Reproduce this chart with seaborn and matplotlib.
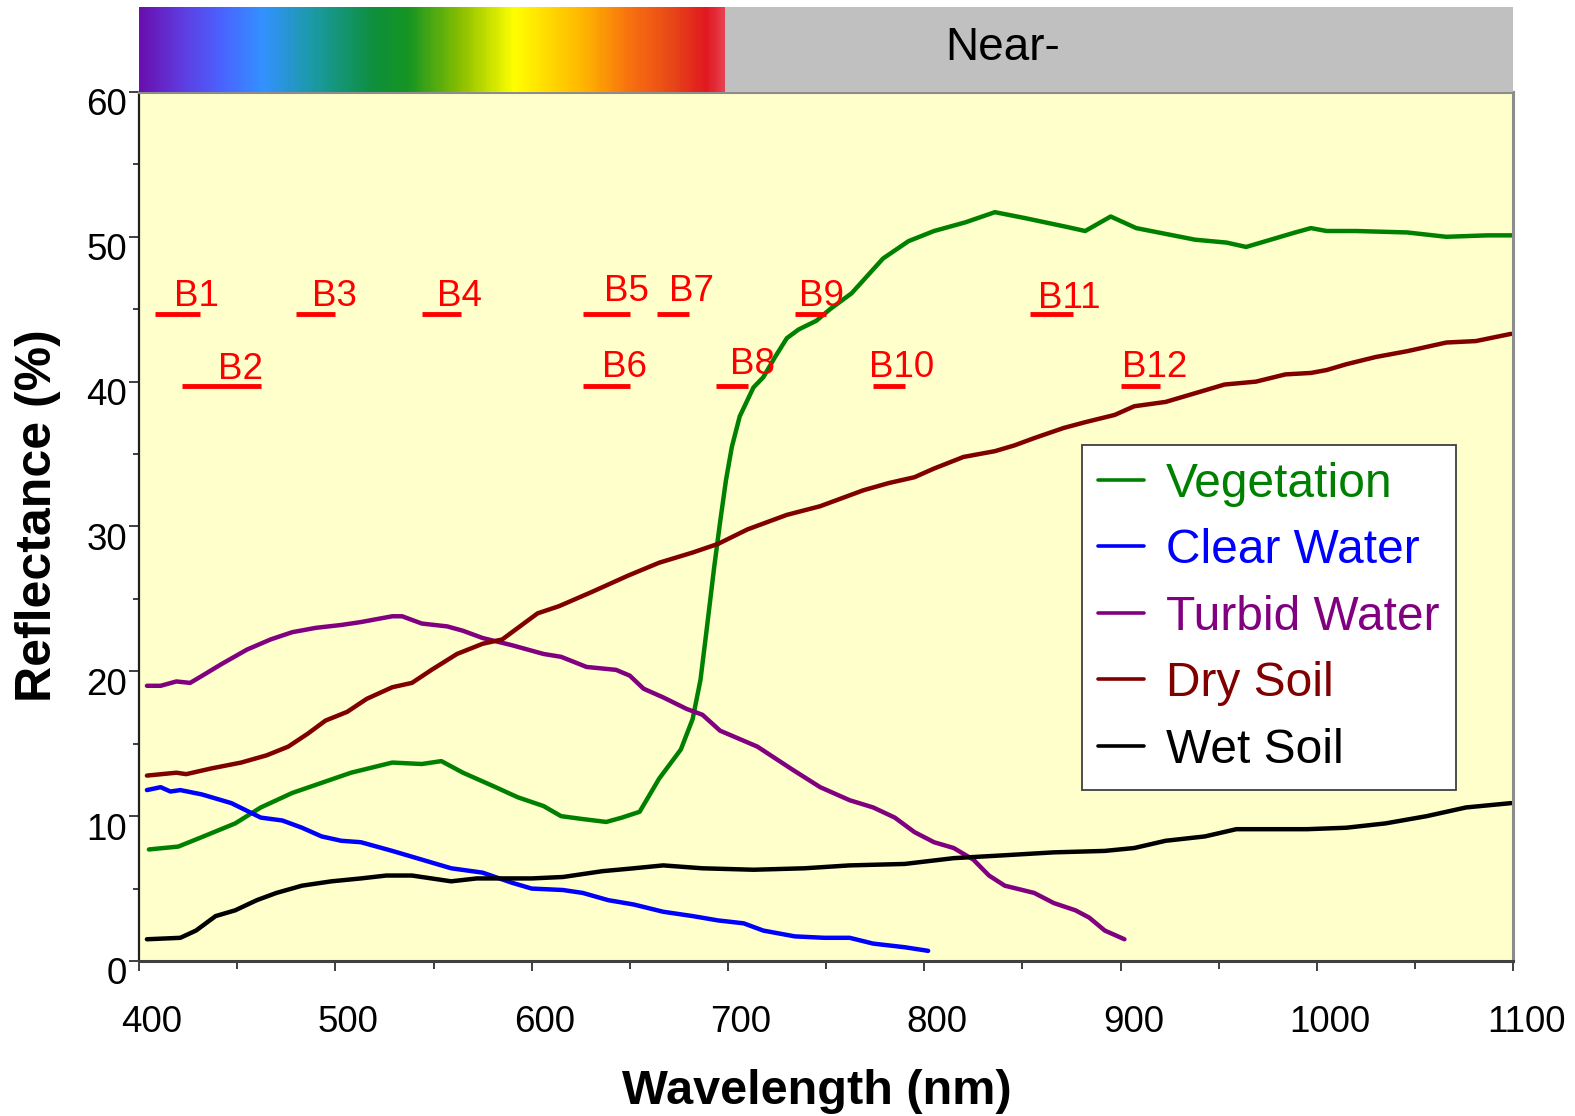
import numpy as np
import pandas as pd
import seaborn as sns
import matplotlib.pyplot as plt
from matplotlib.colors import LinearSegmentedColormap
from matplotlib.transforms import ScaledTranslation

# curves (wavelength nm, reflectance %)
veg_nm = [405, 420, 431, 449, 462, 478, 493, 508, 529, 544, 554, 565, 580, 593,
          606, 615, 626, 638, 646, 655, 665, 676, 682, 686, 689, 693, 696, 699,
          702, 706, 713, 718, 724, 730, 736, 745, 752, 763, 779, 792, 805, 821,
          836, 851, 872, 882, 895, 908, 923, 938, 954, 964, 974, 989, 997, 1005,
          1020, 1046, 1066, 1087, 1100]
veg_val = [7.7, 7.9, 8.5, 9.5, 10.6, 11.6, 12.3, 13.0, 13.7, 13.6, 13.8, 13.0, 12.1, 11.3,
           10.7, 10.0, 9.8, 9.6, 9.9, 10.3, 12.6, 14.6, 16.7, 19.4, 22.7, 27.2, 30.3, 33.2,
           35.5, 37.6, 39.6, 40.3, 41.7, 43.0, 43.6, 44.2, 45.0, 46.1, 48.5, 49.7, 50.4, 51.0,
           51.7, 51.3, 50.7, 50.4, 51.4, 50.6, 50.2, 49.8, 49.6, 49.3, 49.7, 50.3, 50.6, 50.4,
           50.4, 50.3, 50.0, 50.1, 50.1]

clear_nm = [404, 411, 416, 421, 432, 447, 462, 473, 483, 493, 503, 513, 529, 544,
            559, 575, 590, 600, 616, 626, 639, 652, 667, 682, 695, 708, 718, 734,
            749, 762, 774, 790, 802]
clear_val = [11.8, 12.0, 11.7, 11.8, 11.5, 10.9, 9.9, 9.7, 9.2, 8.6, 8.3, 8.2, 7.6, 7.0,
             6.4, 6.1, 5.4, 5.0, 4.9, 4.7, 4.2, 3.9, 3.4, 3.1, 2.8, 2.6, 2.1, 1.7,
             1.6, 1.6, 1.2, 0.95, 0.7]

turbid_nm = [404, 411, 419, 426, 431, 442, 455, 467, 478, 490, 503, 513, 529, 534,
             544, 557, 565, 575, 590, 606, 615, 628, 643, 650, 657, 667, 679, 687,
             696, 715, 733, 747, 762, 774, 785, 795, 805, 815, 825, 833, 841, 856,
             866, 877, 884, 892, 902]
turbid_val = [19.0, 19.0, 19.3, 19.2, 19.6, 20.5, 21.5, 22.2, 22.7, 23.0, 23.2, 23.4, 23.8, 23.8,
              23.3, 23.1, 22.8, 22.3, 21.8, 21.2, 21.0, 20.3, 20.1, 19.7, 18.8, 18.2, 17.4, 17.0,
              15.9, 14.8, 13.2, 12.0, 11.1, 10.6, 9.9, 8.9, 8.2, 7.8, 7.0, 5.9, 5.2, 4.7,
              4.0, 3.5, 3.0, 2.1, 1.5]

dry_nm = [404, 419, 424, 437, 452, 465, 476, 486, 495, 506, 516, 529, 539, 549,
          562, 575, 585, 593, 603, 614, 631, 649, 665, 682, 695, 710, 730, 747,
          757, 769, 782, 795, 805, 820, 836, 846, 856, 871, 882, 897, 907, 923,
          938, 953, 969, 984, 997, 1005, 1015, 1030, 1046, 1056, 1066, 1081, 1099]
dry_val = [12.8, 13.0, 12.9, 13.3, 13.7, 14.2, 14.8, 15.7, 16.6, 17.2, 18.1, 18.9, 19.2, 20.1,
           21.2, 21.9, 22.2, 23.0, 24.0, 24.5, 25.5, 26.6, 27.5, 28.2, 28.8, 29.8, 30.8, 31.4,
           31.9, 32.5, 33.0, 33.4, 34.0, 34.8, 35.2, 35.6, 36.1, 36.8, 37.2, 37.7, 38.3, 38.6,
           39.2, 39.8, 40.0, 40.5, 40.6, 40.8, 41.2, 41.7, 42.1, 42.4, 42.7, 42.8, 43.3]

wet_nm = [404, 421, 429, 439, 449, 460, 470, 483, 498, 513, 526, 539, 549, 559,
          572, 585, 600, 616, 636, 652, 667, 687, 713, 739, 762, 790, 815, 841,
          866, 892, 907, 923, 943, 959, 974, 995, 1015, 1035, 1056, 1076, 1099]
wet_val = [1.5, 1.6, 2.1, 3.1, 3.5, 4.2, 4.7, 5.2, 5.5, 5.7, 5.9, 5.9, 5.7, 5.5,
           5.7, 5.7, 5.7, 5.8, 6.2, 6.4, 6.6, 6.4, 6.3, 6.4, 6.6, 6.7, 7.1, 7.3,
           7.5, 7.6, 7.8, 8.3, 8.6, 9.1, 9.1, 9.1, 9.2, 9.5, 10.0, 10.6, 10.9]

series_names = ['Vegetation', 'Clear Water', 'Turbid Water', 'Dry Soil', 'Wet Soil']
series_colors = ['#008000', '#0000FF', '#800080', '#800000', '#000000']

# sensor bands
band_names = ['B1', 'B2', 'B3', 'B4', 'B5', 'B6', 'B7', 'B8', 'B9', 'B10', 'B11', 'B12']
band_lo = [408, 422, 480, 544, 626, 626, 664, 694, 734, 774, 854, 900]
band_hi = [431, 462, 500, 564, 650, 650, 680, 710, 750, 790, 876, 920]
band_level = [44.7, 39.7, 44.7, 44.7, 44.7, 39.7, 44.7, 39.7, 44.7, 39.7, 44.7, 39.7]
label_x = [418, 440, 488, 552, 637, 636, 670, 701, 736, 772, 858, 901]
label_y = [45.2, 40.2, 45.2, 45.2, 45.6, 40.3, 45.6, 40.5, 45.2, 40.3, 45.1, 40.3]

x_ticks = [400, 500, 600, 700, 800, 900, 1000, 1100]
y_ticks = [0, 10, 20, 30, 40, 50, 60]

frames = []
for name, xs, ys in zip(series_names,
                        [veg_nm, clear_nm, turbid_nm, dry_nm, wet_nm],
                        [veg_val, clear_val, turbid_val, dry_val, wet_val]):
    frames.append(pd.DataFrame({'nm': xs, 'refl': ys, 'cover': name}))
df = pd.concat(frames, ignore_index=True)

sns.set_style('ticks')
plt.rcParams['font.family'] = ['Liberation Sans', 'DejaVu Sans']
plt.rcParams['text.color'] = 'black'
plt.rcParams['axes.labelcolor'] = 'black'
plt.rcParams['xtick.labelcolor'] = 'black'
plt.rcParams['ytick.labelcolor'] = 'black'

fig = plt.figure(figsize=(15.75, 11.16), dpi=100)
ax = fig.add_axes([0.0883, 0.1389, 0.8724, 0.7787])
ax.set_facecolor('#FFFFCC')

sns.lineplot(data=df, x='nm', y='refl', hue='cover', hue_order=series_names,
             palette=dict(zip(series_names, series_colors)), estimator=None,
             sort=False, linewidth=3.2, ax=ax)

ax.hlines(band_level, band_lo, band_hi, colors='#FF0000', linewidth=3.5)
for name, bx, by in zip(band_names, label_x, label_y):
    ax.text(bx, by, name, color='#FF0000', fontsize=26.5, ha='left', va='baseline')

ax.set_xlim(400, 1100)
ax.set_ylim(0, 60)
ax.set_xticks(x_ticks)
ax.set_yticks(y_ticks)
ax.set_xticks(np.arange(450, 1100, 100), minor=True)
ax.set_yticks(np.arange(5, 60, 10), minor=True)
ax.tick_params(axis='both', which='major', labelsize=26.5, length=7, width=1.3,
               color='#303030', labelcolor='black', direction='out')
ax.tick_params(axis='x', which='major', pad=25)
ax.tick_params(axis='y', which='major', pad=1.5)
ax.tick_params(axis='x', which='minor', length=5.5, width=1.3, color='#303030')
ax.tick_params(axis='y', which='minor', length=4.5, width=1.3, color='#303030')

dx = ScaledTranslation(0.13, 0, fig.dpi_scale_trans)
dy = ScaledTranslation(0, -0.10, fig.dpi_scale_trans)
for t in ax.xaxis.get_major_ticks():
    t.label1.set_transform(t.label1.get_transform() + dx)
for t in ax.yaxis.get_major_ticks():
    t.label1.set_transform(t.label1.get_transform() + dy)

ax.set_xlabel('Wavelength (nm)', fontsize=35, fontweight='bold', color='black')
ax.set_ylabel('Reflectance (%)', fontsize=36, fontweight='bold', color='black')
ax.xaxis.set_label_coords(0.4935, -0.124)
ax.yaxis.set_label_coords(-0.057, 0.513)

for side in ['top', 'right']:
    ax.spines[side].set_color('#8C8C8C')
    ax.spines[side].set_linewidth(2.2)
ax.spines['left'].set_color('#202020')
ax.spines['left'].set_linewidth(1.6)
ax.spines['bottom'].set_color('#404040')
ax.spines['bottom'].set_linewidth(2.2)

leg = ax.legend(loc='upper left', bbox_to_anchor=(0.686, 0.594), borderaxespad=0,
                fontsize=34.5, frameon=True, fancybox=False, framealpha=1,
                facecolor='white', edgecolor='#404040', labelcolor='linecolor',
                handlelength=0.95, handletextpad=0.45, labelspacing=0.45,
                borderpad=0.35)
leg.get_frame().set_linewidth(1.3)
for h in leg.get_lines():
    h.set_linewidth(2.6)

# colour spectrum strip and near-infrared strip above the plot
spec = LinearSegmentedColormap.from_list('spec', [
    (0.00, '#6A10B0'), (0.07, '#5F3CE0'), (0.14, '#4A64FF'), (0.21, '#3392FF'),
    (0.30, '#1A9AA0'), (0.40, '#0E8F3C'), (0.46, '#179522'), (0.55, '#8CC000'),
    (0.64, '#FFFF00'), (0.76, '#FFB400'), (0.84, '#F87010'), (0.91, '#E84818'),
    (0.97, '#E01820'), (1.00, '#E84050')])
top = fig.add_axes([0.0870, 0.9176, 0.8737, 0.0762])
top.imshow(np.linspace(0, 1, 300)[None, :], cmap=spec, aspect='auto',
           extent=[400, 700, 0, 1], interpolation='bilinear')
top.axvspan(700, 1103, color='#C0C0C0', lw=0)
top.text(842, 0.52, 'Near-', fontsize=33, ha='center', va='center', color='black')
top.set_xlim(399, 1103)
top.set_ylim(0, 1)
top.axis('off')

fig.savefig('out.png', dpi=100)
